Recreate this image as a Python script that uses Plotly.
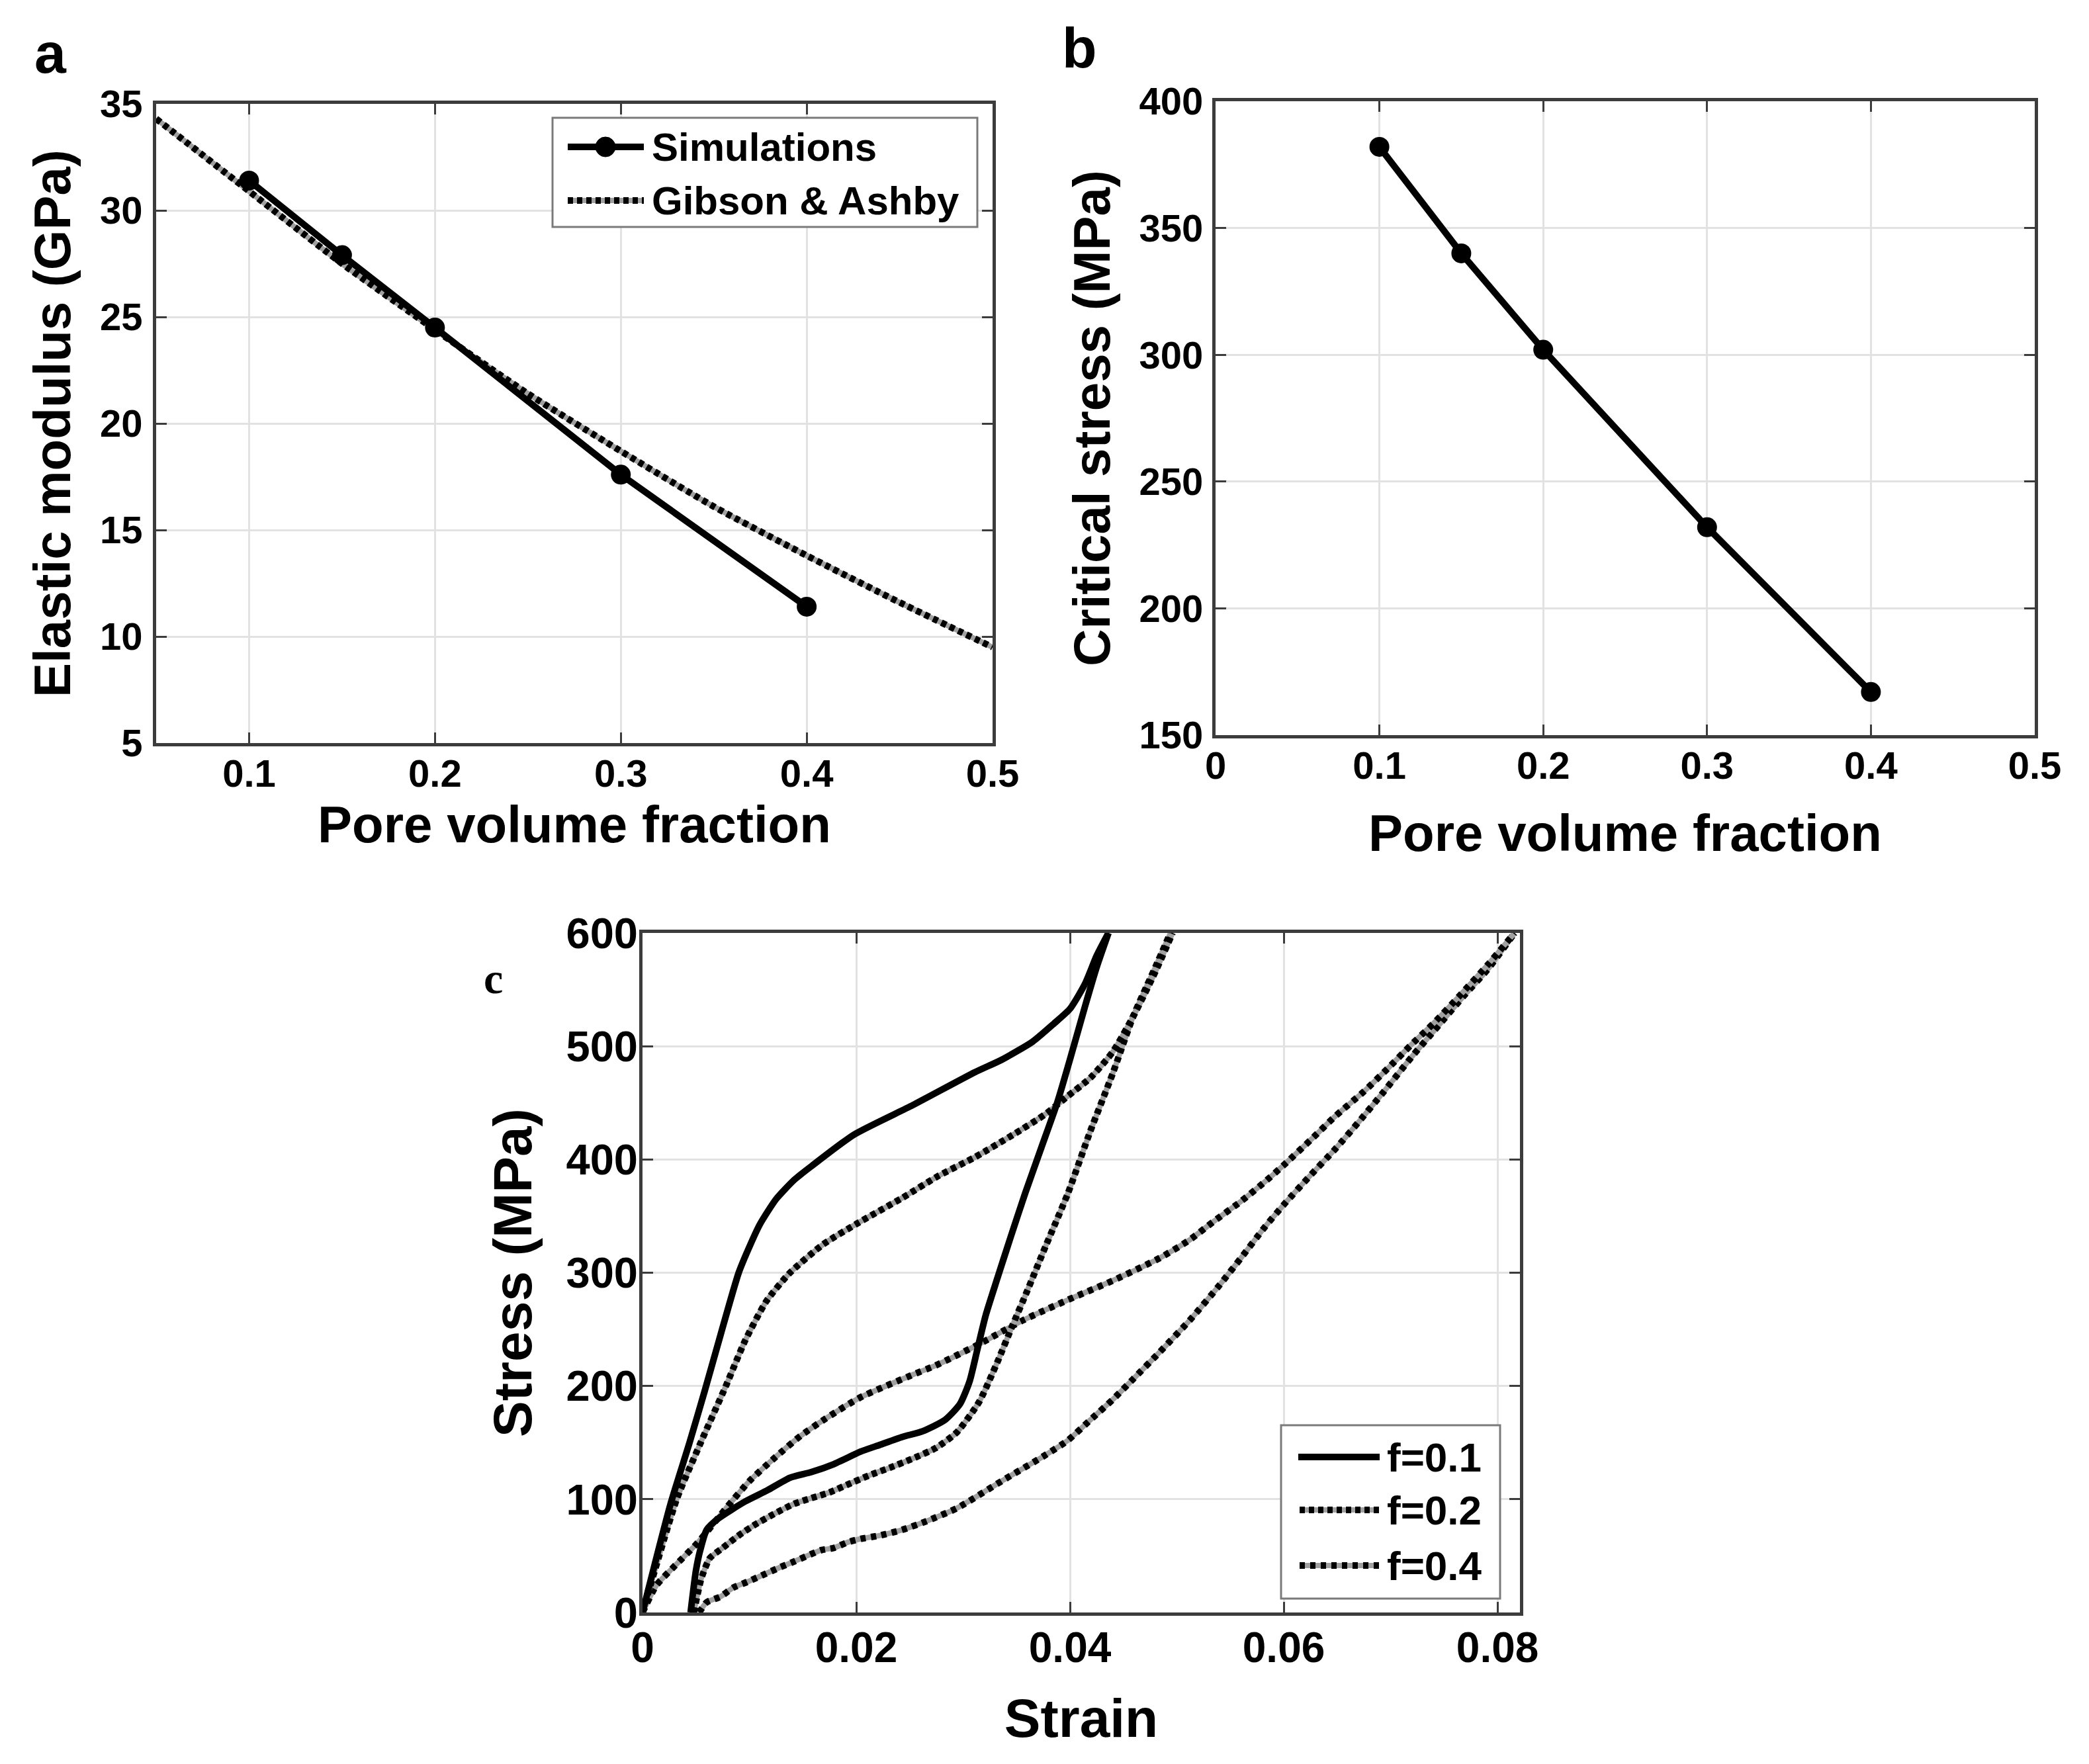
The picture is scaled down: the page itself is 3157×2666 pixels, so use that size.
import plotly.graph_objects as go

W, H = 3157, 2666
FONT = "Liberation Sans, Arial, Helvetica, sans-serif"

# ---------------- Panel a: elastic modulus ----------------
pore_sim = [0.10, 0.15, 0.20, 0.30, 0.40]
modulus_sim = [31.4, 27.9, 24.5, 17.6, 11.4]
pore_ga = [0.05, 0.10, 0.15, 0.20, 0.25, 0.30, 0.35, 0.40, 0.45, 0.50]
modulus_ga = [34.3, 30.9, 27.5, 24.4, 21.4, 18.7, 16.1, 13.8, 11.6, 9.5]
a_xticks = [0.1, 0.2, 0.3, 0.4, 0.5]
a_yticks = [5, 10, 15, 20, 25, 30, 35]

# ---------------- Panel b: critical stress ----------------
pore_b = [0.10, 0.15, 0.20, 0.30, 0.40]
critical_stress = [382, 340, 302, 232, 167]
b_xticks = [0, 0.1, 0.2, 0.3, 0.4, 0.5]
b_yticks = [150, 200, 250, 300, 350, 400]

# ---------------- Panel c: stress-strain ----------------
f01_load_strain = [0, 0.0026, 0.0044, 0.0058, 0.0073, 0.0090, 0.0101, 0.0110, 0.0125, 0.0142,
                   0.0158, 0.0198, 0.0253, 0.0311, 0.0336, 0.0365, 0.0385, 0.0400, 0.0414,
                   0.0425, 0.0436]
f01_load_stress = [0, 95, 150, 195, 245, 300, 325, 343, 365, 382,
                   394, 422, 448, 477, 488, 504, 520, 533, 555,
                   580, 600]
f01_second_strain = [0.0045, 0.0050, 0.0054, 0.0060, 0.0071, 0.0096, 0.0117, 0.0138, 0.0158,
                     0.0179, 0.0204, 0.0222, 0.0243, 0.0262, 0.0283, 0.0297, 0.0306, 0.0313,
                     0.0321, 0.0332, 0.0345, 0.0358, 0.0373, 0.0388, 0.0402, 0.0414, 0.0425,
                     0.0436]
f01_second_stress = [0, 37, 55, 73, 83, 98, 108, 119, 124,
                     131, 142, 148, 155, 160, 170, 184, 204, 231,
                     262, 295, 333, 370, 410, 450, 495, 535, 570,
                     600]
f02_load_strain = [0, 0.0032, 0.0054, 0.0078, 0.0096, 0.0116, 0.0138, 0.0169, 0.0200, 0.0243,
                   0.0276, 0.0311, 0.0347, 0.0377, 0.0398, 0.0419, 0.0440, 0.0459, 0.0480,
                   0.0496]
f02_load_stress = [0, 100, 149, 200, 240, 275, 300, 325, 343, 366,
                   385, 402, 422, 440, 456, 472, 495, 526, 566,
                   600]
f02_second_strain = [0.0048, 0.0055, 0.0063, 0.0075, 0.0090, 0.0106, 0.0125, 0.0142, 0.0158,
                     0.0175, 0.0192, 0.0212, 0.0232, 0.0253, 0.0274, 0.0294, 0.0315, 0.0332,
                     0.0346, 0.0360, 0.0377, 0.0398, 0.0419, 0.0440, 0.0459, 0.0480, 0.0494]
f02_second_stress = [0, 30, 48, 57, 68, 78, 88, 96, 101,
                     106, 113, 121, 128, 136, 145, 159, 186, 221,
                     253, 284, 323, 370, 425, 476, 526, 570, 600]
f04_load_strain = [0, 0.0013, 0.0029, 0.0052, 0.0079, 0.0100, 0.0123, 0.0148, 0.0171, 0.0204,
                   0.0253, 0.0274, 0.0315, 0.0356, 0.0398, 0.0440, 0.0484, 0.0512, 0.0534,
                   0.0560, 0.0582, 0.0600, 0.0626, 0.0648, 0.0675, 0.0697, 0.0719, 0.0740,
                   0.0765, 0.0791, 0.0816]
f04_load_stress = [0, 24, 40, 62, 93, 116, 136, 156, 171, 190,
                   210, 218, 237, 258, 276, 293, 313, 329, 345,
                   363, 380, 395, 418, 438, 460, 480, 501, 520,
                   545, 572, 600]
f04_second_strain = [0.0053, 0.0060, 0.0073, 0.0085, 0.0098, 0.0110, 0.0129, 0.0142, 0.0154,
                     0.0167, 0.0179, 0.0192, 0.0204, 0.0222, 0.0243, 0.0264, 0.0294, 0.0336,
                     0.0377, 0.0398, 0.0419, 0.0440, 0.0459, 0.0484, 0.0512, 0.0539, 0.0560,
                     0.0582, 0.0600, 0.0624, 0.0648, 0.0670, 0.0692, 0.0721, 0.0741, 0.0769,
                     0.0791, 0.0816]
f04_second_stress = [0, 9, 14, 22, 27, 32, 40, 45, 50,
                     55, 57, 62, 65, 68, 73, 80, 92, 116,
                     139, 152, 170, 188, 206, 230, 258, 288, 313,
                     340, 360, 385, 409, 433, 458, 492, 514, 545,
                     568, 600]
c_xticks = [0, 0.02, 0.04, 0.06, 0.08]
c_xticktext = ["0", "0.02", "0.04", "0.06", "0.08"]
c_yticks = [0, 100, 200, 300, 400, 500, 600]

legend_a = ["Simulations", "Gibson & Ashby"]
legend_c = ["f=0.1", "f=0.2", "f=0.4"]

# the page body adds a small offset; compensate it
OX, OY = 8, 8


def px(x):
    return (x - OX) / W


def py(y):
    return 1 - (y - OY) / H


BLACK = "#000000"
GREY = "#a0a0a0"
LW = 10
DOT02 = "8px,6px"
DOT04 = "8px,8px"

fig = go.Figure()


def add_line(x, y, xa, ya, dash=None, name=None, markers=False):
    if dash is not None:
        fig.add_trace(go.Scatter(x=x, y=y, xaxis=xa, yaxis=ya, mode="lines",
                                 line=dict(color=GREY, width=LW - 2, shape="spline", smoothing=0.6),
                                 showlegend=False, hoverinfo="skip"))
        fig.add_trace(go.Scatter(x=x, y=y, xaxis=xa, yaxis=ya, mode="lines", name=name,
                                 line=dict(color=BLACK, width=LW, dash=dash, shape="spline",
                                           smoothing=0.6),
                                 showlegend=False))
    else:
        fig.add_trace(go.Scatter(x=x, y=y, xaxis=xa, yaxis=ya,
                                 mode="lines+markers" if markers else "lines", name=name,
                                 line=dict(color=BLACK, width=LW, shape="spline" if not markers else "linear",
                                           smoothing=0.6),
                                 marker=dict(size=30, color=BLACK, symbol="circle"),
                                 showlegend=False))


# panel a
add_line(pore_ga, modulus_ga, "x", "y", dash=DOT02, name=legend_a[1])
add_line(pore_sim, modulus_sim, "x", "y", name=legend_a[0], markers=True)
# panel b
add_line(pore_b, critical_stress, "x2", "y2", name="Critical stress", markers=True)
# panel c
add_line(f04_second_strain, f04_second_stress, "x3", "y3", dash=DOT04, name=legend_c[2])
add_line(f04_load_strain, f04_load_stress, "x3", "y3", dash=DOT04, name=legend_c[2])
add_line(f02_second_strain, f02_second_stress, "x3", "y3", dash=DOT02, name=legend_c[1])
add_line(f02_load_strain, f02_load_stress, "x3", "y3", dash=DOT02, name=legend_c[1])
add_line(f01_second_strain, f01_second_stress, "x3", "y3", name=legend_c[0])
add_line(f01_load_strain, f01_load_stress, "x3", "y3", name=legend_c[0])

AX_COLOR = "#3c3c3c"


def axis(domain, rng, tickvals, ticktext=None, fs=58, title=None, tfs=78, standoff=20,
         tls=10, anchor=None):
    d = dict(domain=domain, range=rng, tickvals=tickvals, showline=True, linecolor=AX_COLOR,
             linewidth=5, mirror="ticks", ticks="inside", ticklen=16, tickwidth=3,
             tickcolor=AX_COLOR, showgrid=True, gridcolor="#e2e2e2", gridwidth=3,
             zeroline=False, anchor=anchor, ticklabelstandoff=tls, automargin=False,
             tickfont=dict(family=FONT, size=fs, color="black", weight="bold"))
    if ticktext is not None:
        d["ticktext"] = ticktext
    if title is not None:
        d["title"] = dict(text=title, standoff=standoff,
                          font=dict(family=FONT, size=tfs, color="black", weight="bold"))
    return d


fig.update_layout(
    width=W, height=H, paper_bgcolor="white", plot_bgcolor="white",
    margin=dict(l=0, r=0, t=0, b=0, autoexpand=False), showlegend=False,
    xaxis=axis([px(236), px(1500)], [0.05, 0.5], a_xticks, [str(v) for v in a_xticks],
               title="Pore volume fraction", anchor="y", standoff=20, tls=-9),
    yaxis=axis([py(1123), py(157)], [5, 35], a_yticks, [str(v) for v in a_yticks],
               title="Elastic modulus (GPa)", anchor="x", standoff=20, tls=4),
    xaxis2=axis([px(1837), px(3075)], [0, 0.5], b_xticks, ["0", "0.1", "0.2", "0.3", "0.4", "0.5"],
                title="Pore volume fraction", anchor="y2", standoff=45, tls=-9),
    yaxis2=axis([py(1111), py(153)], [150, 400], b_yticks, [str(v) for v in b_yticks],
                title="Critical stress (MPa)", anchor="x2", standoff=20, tls=2),
    xaxis3=axis([px(971), px(2297)], [0, 0.0821], c_xticks, c_xticktext, fs=64,
                title="Strain", tfs=82, anchor="y3", standoff=44, tls=-7),
    yaxis3=axis([py(2437), py(1410)], [0, 600], c_yticks, [str(v) for v in c_yticks], fs=65,
                title="Stress (MPa)", tfs=82, anchor="x3", standoff=26, tls=-11),
)

shapes = []
annotations = []

# ---- legend panel a ----
shapes.append(dict(type="rect", xref="paper", yref="paper", x0=px(835), x1=px(1477),
                   y0=py(343), y1=py(178), line=dict(color="#7a7a7a", width=3),
                   fillcolor="white", layer="above"))
shapes.append(dict(type="line", xref="paper", yref="paper", x0=px(858), x1=px(973),
                   y0=py(222), y1=py(222), line=dict(color=BLACK, width=LW)))
shapes.append(dict(type="circle", xref="paper", yref="paper", x0=px(900), x1=px(930),
                   y0=py(237), y1=py(207), line=dict(color=BLACK, width=1), fillcolor=BLACK))
shapes.append(dict(type="line", xref="paper", yref="paper", x0=px(858), x1=px(973),
                   y0=py(303), y1=py(303), line=dict(color=GREY, width=LW - 2)))
shapes.append(dict(type="line", xref="paper", yref="paper", x0=px(858), x1=px(973),
                   y0=py(303), y1=py(303), line=dict(color=BLACK, width=LW, dash=DOT02)))
for txt, yy in zip(legend_a, [222, 303]):
    annotations.append(dict(text=txt, xref="paper", yref="paper", x=px(983), y=py(yy),
                            xanchor="left", yanchor="middle", showarrow=False,
                            font=dict(family=FONT, size=60, color="black", weight="bold")))

# ---- legend panel c ----
shapes.append(dict(type="rect", xref="paper", yref="paper", x0=px(1936), x1=px(2267),
                   y0=py(2416), y1=py(2154), line=dict(color="#7a7a7a", width=3),
                   fillcolor="white", layer="above"))
shapes.append(dict(type="line", xref="paper", yref="paper", x0=px(1962), x1=px(2085),
                   y0=py(2202), y1=py(2202), line=dict(color=BLACK, width=LW)))
for yy, dsh in [(2282, DOT02), (2366, DOT04)]:
    shapes.append(dict(type="line", xref="paper", yref="paper", x0=px(1964), x1=px(2084),
                       y0=py(yy), y1=py(yy), line=dict(color=GREY, width=LW - 2)))
    shapes.append(dict(type="line", xref="paper", yref="paper", x0=px(1964), x1=px(2084),
                       y0=py(yy), y1=py(yy), line=dict(color=BLACK, width=LW, dash=dsh)))
for txt, yy in zip(legend_c, [2202, 2282, 2366]):
    annotations.append(dict(text=txt, xref="paper", yref="paper", x=px(2094), y=py(yy),
                            xanchor="left", yanchor="middle", showarrow=False,
                            font=dict(family=FONT, size=62, color="black", weight="bold")))

# ---- panel labels ----
annotations.append(dict(text="a", xref="paper", yref="paper", x=px(76), y=py(80),
                        xanchor="center", yanchor="middle", showarrow=False,
                        font=dict(family=FONT, size=86, color="black", weight="bold")))
annotations.append(dict(text="b", xref="paper", yref="paper", x=px(1631), y=py(72),
                        xanchor="center", yanchor="middle", showarrow=False,
                        font=dict(family=FONT, size=86, color="black", weight="bold")))
annotations.append(dict(text="c", xref="paper", yref="paper", x=px(745), y=py(1478),
                        xanchor="center", yanchor="middle", showarrow=False,
                        font=dict(family="Liberation Serif, Times New Roman, serif", size=66,
                                  color="black", weight="bold")))

fig.update_layout(shapes=shapes, annotations=annotations)
fig.write_html("out.html")
